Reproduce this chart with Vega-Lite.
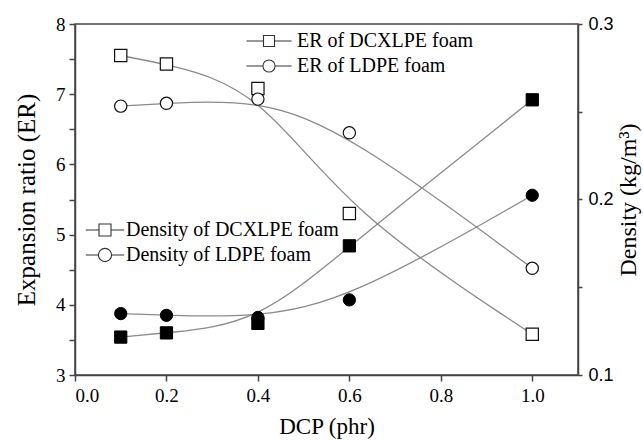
{
  "$schema": "https://vega.github.io/schema/vega-lite/v6.json",
  "width": 503,
  "height": 351,
  "autosize": {"type": "none"},
  "padding": {"left": 75, "top": 24, "right": 65, "bottom": 65},
  "background": "white",
  "config": {
    "font": "Liberation Serif",
    "view": {"stroke": "#444", "strokeWidth": 1.5},
    "legend": {"labelFont": "Liberation Serif", "labelFontSize": 20, "labelColor": "black"},
    "axis": {
      "grid": false,
      "domainColor": "#444",
      "domainWidth": 1.5,
      "tickColor": "#444",
      "tickWidth": 1.5,
      "tickSize": 6,
      "labelColor": "black",
      "titleColor": "black",
      "titleFontWeight": "normal",
      "labelFont": "Liberation Serif",
      "titleFont": "Liberation Serif",
      "labelFontSize": 19,
      "titleFontSize": 23
    }
  },
  "datasets": {
    "er": [
      {"dcp": 0.1, "series": "ER of DCXLPE foam", "er": 7.55},
      {"dcp": 0.2, "series": "ER of DCXLPE foam", "er": 7.43},
      {"dcp": 0.4, "series": "ER of DCXLPE foam", "er": 7.08},
      {"dcp": 0.6, "series": "ER of DCXLPE foam", "er": 5.30},
      {"dcp": 1.0, "series": "ER of DCXLPE foam", "er": 3.58},
      {"dcp": 0.1, "series": "ER of LDPE foam", "er": 6.83},
      {"dcp": 0.2, "series": "ER of LDPE foam", "er": 6.87},
      {"dcp": 0.4, "series": "ER of LDPE foam", "er": 6.93},
      {"dcp": 0.6, "series": "ER of LDPE foam", "er": 6.45},
      {"dcp": 1.0, "series": "ER of LDPE foam", "er": 4.52}
    ],
    "den": [
      {"dcp": 0.1, "series": "Density of DCXLPE foam", "density": 0.1216},
      {"dcp": 0.2, "series": "Density of DCXLPE foam", "density": 0.1240},
      {"dcp": 0.4, "series": "Density of DCXLPE foam", "density": 0.1294},
      {"dcp": 0.6, "series": "Density of DCXLPE foam", "density": 0.1736},
      {"dcp": 1.0, "series": "Density of DCXLPE foam", "density": 0.2568},
      {"dcp": 0.1, "series": "Density of LDPE foam", "density": 0.1350},
      {"dcp": 0.2, "series": "Density of LDPE foam", "density": 0.1340},
      {"dcp": 0.4, "series": "Density of LDPE foam", "density": 0.1328},
      {"dcp": 0.6, "series": "Density of LDPE foam", "density": 0.1428},
      {"dcp": 1.0, "series": "Density of LDPE foam", "density": 0.2024}
    ]
  },
  "layer": [
    {
      "data": {"name": "er"},
      "encoding": {
        "x": {
          "field": "dcp", "type": "quantitative",
          "scale": {"domain": [0, 1.1], "nice": false, "zero": false},
          "axis": {"title": "DCP (phr)", "values": [0, 0.2, 0.4, 0.6, 0.8, 1.0], "format": ".1f", "labelFont": "Liberation Serif", "labelFontSize": 19, "labelPadding": 5, "titlePadding": 10}
        },
        "y": {
          "field": "er", "type": "quantitative",
          "scale": {"domain": [3, 8], "nice": false, "zero": false},
          "axis": {
            "orient": "left",
            "title": "Expansion ratio (ER)",
            "titleFontSize": 25,
            "values": [3, 3.5, 4, 4.5, 5, 5.5, 6, 6.5, 7, 7.5, 8],
            "labelExpr": "datum.value % 1 === 0 ? format(datum.value, 'd') : ''",
            "labelPadding": 4,
            "titlePadding": 16
          }
        }
      },
      "layer": [
        {
          "mark": {"type": "line", "interpolate": "basis", "color": "#8a8a8a", "strokeWidth": 1.3},
          "encoding": {"detail": {"field": "series"}}
        },
        {
          "mark": {"type": "point", "filled": true, "fill": "white", "stroke": "#111", "strokeWidth": 1.2, "size": 150, "opacity": 1},
          "encoding": {
            "shape": {"field": "series", "type": "nominal", "scale": {"domain": ["ER of DCXLPE foam", "ER of LDPE foam"], "range": ["square", "circle"]}, "legend": null}
          }
        },
        {
          "mark": {"type": "point", "opacity": 0, "size": 121},
          "encoding": {
            "shape": {
              "field": "series", "type": "nominal",
              "scale": {"domain": ["ER of DCXLPE foam", "ER of LDPE foam"], "range": ["M-4.1,0H-1M1,0H4.1M-1,-1H1V1H-1Z", "M-4.1,0H-1.1M1.1,0H4.1M-1.1,0A1.1,1.1,0,1,0,1.1,0A1.1,1.1,0,1,0,-1.1,0Z"]},
              "legend": {
                "orient": "none", "legendX": 184, "legendY": 7, "title": null,
                "symbolSize": 121, "symbolFillColor": "white", "symbolStrokeColor": "#333", "symbolStrokeWidth": 1.1, "symbolOpacity": 1,
                "labelFont": "Liberation Serif", "labelFontSize": 20, "labelColor": "black", "labelOffset": 18, "labelLimit": 0, "rowPadding": 5
              }
            }
          }
        }
      ],
      "resolve": {"scale": {"shape": "independent"}}
    },
    {
      "data": {"name": "den"},
      "encoding": {
        "x": {
          "field": "dcp", "type": "quantitative",
          "scale": {"domain": [0, 1.1], "nice": false, "zero": false},
          "axis": {"title": "DCP (phr)", "values": [0, 0.2, 0.4, 0.6, 0.8, 1.0], "format": ".1f", "labelFont": "Liberation Serif", "labelFontSize": 19, "labelPadding": 5, "titlePadding": 10}
        },
        "y": {
          "field": "density", "type": "quantitative",
          "scale": {"domain": [0.1, 0.3], "nice": false, "zero": false},
          "axis": {
            "orient": "right",
            "title": "Density (kg/m³)",
            "titleAngle": 270,
            "titleBaseline": "top",
            "titleFontSize": 24,
            "labelFont": "Liberation Sans",
            "labelFontSize": 18,
            "values": [0.1, 0.15, 0.2, 0.25, 0.3],
            "labelExpr": "(round(datum.value*100) % 10 === 0) ? format(datum.value, '.1f') : ''",
            "tickSize": 4,
            "labelPadding": 6,
            "titlePadding": 3
          }
        }
      },
      "layer": [
        {
          "mark": {"type": "line", "interpolate": "basis", "color": "#8a8a8a", "strokeWidth": 1.3},
          "encoding": {"detail": {"field": "series"}}
        },
        {
          "mark": {"type": "point", "filled": true, "fill": "black", "stroke": "black", "strokeWidth": 1, "size": 150, "opacity": 1},
          "encoding": {
            "shape": {"field": "series", "type": "nominal", "scale": {"domain": ["Density of DCXLPE foam", "Density of LDPE foam"], "range": ["square", "circle"]}, "legend": null}
          }
        },
        {
          "mark": {"type": "point", "opacity": 0, "size": 144},
          "encoding": {
            "shape": {
              "field": "series", "type": "nominal",
              "scale": {"domain": ["Density of DCXLPE foam", "Density of LDPE foam"], "range": ["M-3.2,0H-1M1,0H3.2M-1,-1H1V1H-1Z", "M-3.2,0H-1.1M1.1,0H3.2M-1.1,0A1.1,1.1,0,1,0,1.1,0A1.1,1.1,0,1,0,-1.1,0Z"]},
              "legend": {
                "orient": "none", "legendX": 20, "legendY": 196, "title": null,
                "symbolSize": 144, "symbolFillColor": "black", "symbolStrokeColor": "#333", "symbolStrokeWidth": 1.1, "symbolOpacity": 1,
                "labelFont": "Liberation Serif", "labelFontSize": 20, "labelColor": "black", "labelOffset": 11, "labelLimit": 0, "rowPadding": 5
              }
            }
          }
        }
      ],
      "resolve": {"scale": {"shape": "independent"}}
    }
  ],
  "resolve": {"scale": {"y": "independent", "shape": "independent"}}
}
